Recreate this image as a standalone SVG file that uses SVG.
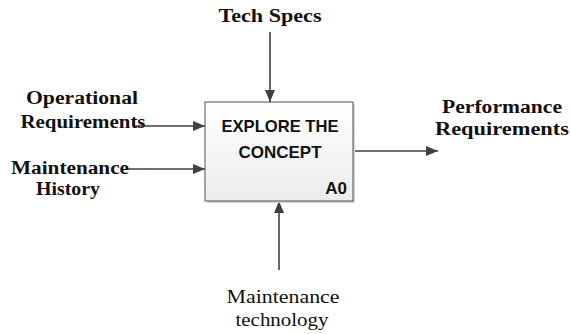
<svg xmlns="http://www.w3.org/2000/svg" width="571" height="334" viewBox="0 0 571 334">
<style>
.conn{stroke:#404040;stroke-width:1.6;fill:none}
.lbl{font-family:"Liberation Serif",serif;font-weight:bold;fill:#111;text-anchor:middle}
.lblr{font-family:"Liberation Serif",serif;fill:#111;text-anchor:middle}
.box{font-family:"Liberation Sans",Arial,sans-serif;font-weight:bold;fill:#111}
</style>
<defs>
<linearGradient id="g" x1="0" y1="0" x2="0" y2="1">
<stop offset="0" stop-color="#ffffff"/>
<stop offset="1" stop-color="#ececec"/>
</linearGradient>
<marker id="ah" viewBox="0 0 12 10" refX="12" refY="5" markerWidth="12" markerHeight="10" orient="auto" markerUnits="userSpaceOnUse">
<path d="M0,0 L12,5 L0,10 z" fill="#404040"/>
</marker>
</defs>
<g id="connectors">
<line class="conn" x1="270" y1="32" x2="270" y2="102" marker-end="url(#ah)"/>
<line class="conn" x1="135" y1="126" x2="205" y2="126" marker-end="url(#ah)"/>
<line class="conn" x1="128" y1="169" x2="205" y2="169" marker-end="url(#ah)"/>
<line class="conn" x1="353" y1="151" x2="438" y2="151" marker-end="url(#ah)"/>
<line class="conn" x1="279" y1="270" x2="279" y2="201" marker-end="url(#ah)"/>
</g>
<g id="node-a0">
<rect x="207" y="104" width="148" height="99" fill="#d4d4d4"/>
<rect x="205" y="102" width="148" height="99" fill="url(#g)" stroke="#505050" stroke-width="1"/>
<text class="box" x="280" y="132" font-size="17" text-anchor="middle" textLength="117" lengthAdjust="spacingAndGlyphs">EXPLORE THE</text>
<text class="box" x="280" y="158" font-size="17" text-anchor="middle">CONCEPT</text>
<text class="box" x="347" y="194" font-size="17" text-anchor="end">A0</text>
</g>
<g id="label-tech-specs">
<text class="lbl" x="270" y="22" font-size="19" textLength="103" lengthAdjust="spacingAndGlyphs">Tech Specs</text>
</g>
<g id="label-operational">
<text class="lbl" x="82" y="104" font-size="18" textLength="112" lengthAdjust="spacingAndGlyphs">Operational</text>
<text class="lbl" x="83" y="128" font-size="18" textLength="125" lengthAdjust="spacingAndGlyphs">Requirements</text>
</g>
<g id="label-maintenance-history">
<text class="lbl" x="70" y="174" font-size="18" textLength="118" lengthAdjust="spacingAndGlyphs">Maintenance</text>
<text class="lbl" x="68" y="195" font-size="18" textLength="64" lengthAdjust="spacingAndGlyphs">History</text>
</g>
<g id="label-performance">
<text class="lbl" x="502" y="113" font-size="18" textLength="120" lengthAdjust="spacingAndGlyphs">Performance</text>
<text class="lbl" x="502" y="135" font-size="18" textLength="134" lengthAdjust="spacingAndGlyphs">Requirements</text>
</g>
<g id="label-maintenance-technology">
<text class="lblr" x="283" y="303" font-size="18" textLength="113" lengthAdjust="spacingAndGlyphs">Maintenance</text>
<text class="lblr" x="282" y="326" font-size="18" textLength="93" lengthAdjust="spacingAndGlyphs">technology</text>
</g>
</svg>
